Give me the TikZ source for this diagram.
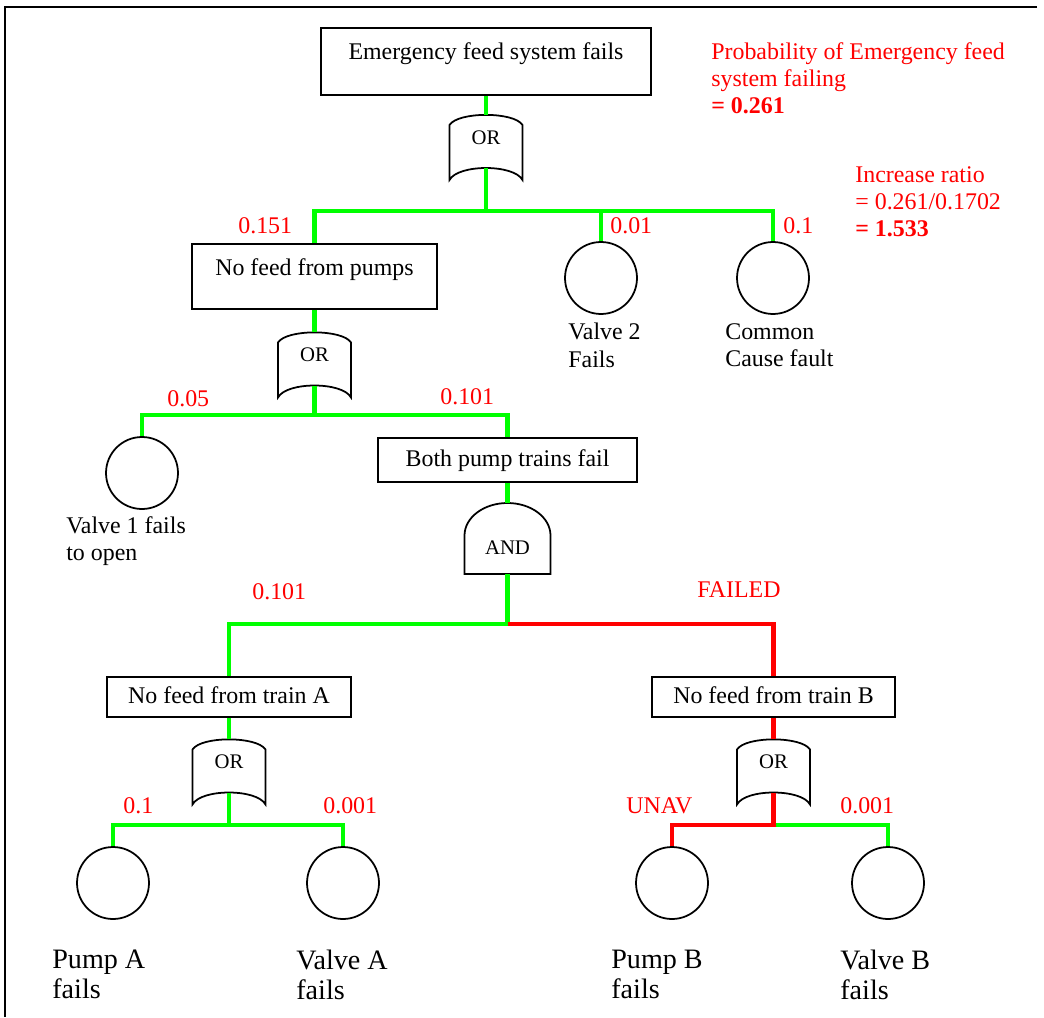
\documentclass[tikz,border=0pt]{standalone}
\usepackage{fontspec}
\setmainfont{Liberation Serif}
\definecolor{okgreen}{RGB}{0,255,0}
\definecolor{failred}{RGB}{255,0,0}
\newcommand{\txtfont}{\fontsize{13.6}{15.6}\selectfont}
\newcommand{\bigtxtfont}{\fontsize{16}{17}\selectfont}
\newcommand{\gatefont}{\fontsize{11.8}{13}\selectfont}
% OR gate : #1 name, #2 centre
\newcommand{\orgate}[2]{%
  \begin{scope}[shift={(#2)}]
    \draw[gateline] (-36.5,-16.5) .. controls (-28,-30) and (28,-30) .. (36.5,-16.5)
      -- (36.5,38.5) .. controls (28,22.5) and (-28,22.5) .. (-36.5,38.5) -- cycle;
    \node[gatetext, minimum height=1.06cm, text height=0.3cm, text depth=0.2cm] (#1) at (0,0) {OR};
  \end{scope}}
% AND gate : #1 name, #2 centre
\newcommand{\andgate}[2]{%
  \begin{scope}[shift={(#2)}]
    \draw[gateline] (-43,35.5) -- (-43,-3) .. controls (-43,-21) and (-23.7,-35.5) .. (0,-35.5)
      .. controls (23.7,-35.5) and (43,-21) .. (43,-3) -- (43,35.5) -- cycle;
    \node[gatetext, minimum height=1.42cm, text height=0.65cm, text depth=0.03cm] (#1) at (0,0) {AND};
  \end{scope}}

\begin{document}
\begin{tikzpicture}[x=0.02cm, y=-0.02cm,
  box/.style={draw, line width=1pt, inner sep=0pt, font=\txtfont, text height=0.35cm, text depth=0.1cm},
  tallbox/.style={box, text depth=0.41cm},
  event/.style={draw, circle, line width=1pt, minimum size=1.44cm, inner sep=0pt},
  gateline/.style={line width=1pt, fill=white},
  gatetext/.style={inner sep=0pt, minimum width=1.46cm, font=\gatefont},
  okline/.style={draw=okgreen, line width=2.8pt},
  failline/.style={draw=failred, line width=2.8pt},
  prob/.style={text=failred, anchor=west, inner sep=0pt, font=\txtfont},
  note/.style={anchor=north west, align=left, inner sep=0pt, font=\txtfont},
  bignote/.style={note, font=\bigtxtfont}]
\useasboundingbox (0,0) rectangle (1044,1017);
\draw[line width=1.1pt] (1037,7) -- (5,7) -- (5,1017);
%
% Events and gates
\node[tallbox, minimum width=6.6cm, minimum height=1.34cm] (top) at (486,61.5) {Emergency feed system fails};
\orgate{or1}{486,141.5}
\node[tallbox, minimum width=4.9cm, minimum height=1.3cm] (pumps) at (314.5,276.5) {No feed from pumps};
\node[event] (v2) at (601,278) {};
\node[event] (ccf) at (773,278) {};
\orgate{or2}{314.5,359}
\node[event] (v1) at (142,473) {};
\node[box, minimum width=5.18cm, minimum height=0.88cm] (both) at (507.5,460) {Both pump trains fail};
\andgate{and1}{507.5,538.5}
\node[box, minimum width=4.88cm, minimum height=0.8cm] (trainA) at (229,697) {No feed from train A};
\node[box, minimum width=4.86cm, minimum height=0.8cm] (trainB) at (773.5,697) {No feed from train B};
\orgate{or3}{229,766}
\orgate{or4}{773.5,766}
\node[event] (pa) at (113,883) {};
\node[event] (va) at (343,883) {};
\node[event] (pb) at (672,883) {};
\node[event] (vb) at (888,883) {};
%
% Branches
\coordinate (j1) at (486,211);
\coordinate (j2) at (314.5,415);
\coordinate (j3) at (507.5,624);
\coordinate (j4) at (229,825);
\coordinate (j5) at (773.5,825);
\draw[okline] (top.south) -- (or1.north);
\draw[okline] (or1.south) -- (j1) -| (pumps.north);
\draw[okline] (j1) -| (v2.north);
\draw[okline] (j1) -| (ccf.north);
\draw[okline] (pumps.south) -- (or2.north);
\draw[okline] (or2.south) -- (j2) -| (v1.north);
\draw[okline] (j2) -| (both.north);
\draw[okline] (both.south) -- (and1.north);
\draw[okline] (and1.south) -- (j3) -| (trainA.north);
\draw[okline] (trainA.south) -- (or3.north);
\draw[okline] (or3.south) -- (j4) -| (pa.north);
\draw[okline] (j4) -| (va.north);
\draw[okline] (j5) -| (vb.north);
\draw[failline] (j3) -| (trainB.north);
\draw[failline] (trainB.south) -- (or4.north);
\draw[failline] (or4.south) -- (j5) -| (pb.north);
%
% Labels :
\node[prob] (q151) at (238,226) {0.151};
\node[prob] (q01) at (610,226) {0.01};
\node[prob] (q1) at (783,226) {0.1};
\node[prob] (q05) at (167,399) {0.05};
\node[prob] (q101a) at (440,397) {0.101};
\node[prob] (q101b) at (252,592) {0.101};
\node[prob] (qfail) at (697,590) {FAILED};
\node[prob] (qpa) at (123,806) {0.1};
\node[prob] (qva) at (323,806) {0.001};
\node[prob] (qpb) at (626,806) {UNAV};
\node[prob] (qvb) at (840,806) {0.001};
\node[note] (lv2) at (568,323) {Valve 2\\Fails};
\node[note] (lccf) at (725,323) {Common\\Cause fault};
\node[note] (lv1) at (66,516) {Valve 1 fails\\to open};
\node[note, text=failred] (ptop) at (711,42) {Probability of Emergency feed\\system failing\\\textbf{= 0.261}};
\node[note, text=failred] (pratio) at (855,166) {Increase ratio\\= 0.261/0.1702\\\textbf{= 1.533}};
\node[bignote] (lpa) at (52,950) {Pump A\\fails};
\node[bignote] (lva) at (296,950) {Valve A\\fails};
\node[bignote] (lpb) at (611,950) {Pump B\\fails};
\node[bignote] (lvb) at (840,950) {Valve B\\fails};
\end{tikzpicture}
\end{document}
